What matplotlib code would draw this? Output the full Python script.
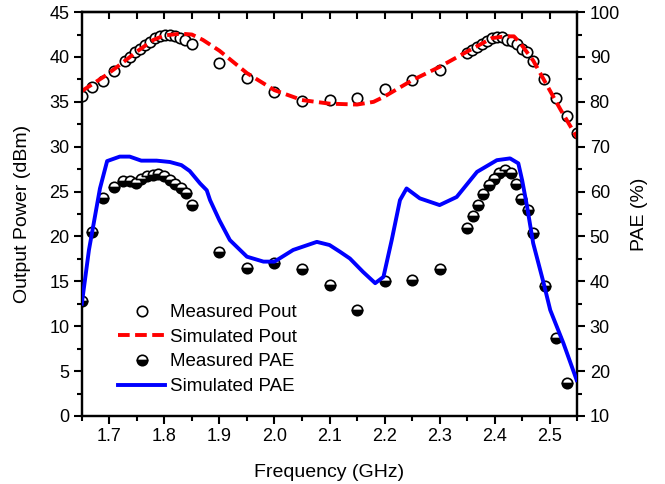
import numpy as np
import matplotlib
matplotlib.use('Agg')
import matplotlib.pyplot as plt
from matplotlib.ticker import MultipleLocator

plt.rcParams['font.family'] = ['Liberation Sans', 'DejaVu Sans']
plt.rcParams['font.size'] = 13

# measured output power (dBm)
meas_pout_f = [1.65, 1.669, 1.689, 1.709, 1.728, 1.737, 1.746, 1.755, 1.765, 1.774,
               1.783, 1.792, 1.801, 1.81, 1.819, 1.828, 1.837, 1.85, 1.90, 1.95,
               2.00, 2.05, 2.10, 2.15, 2.20, 2.25, 2.30, 2.35, 2.359, 2.368,
               2.377, 2.386, 2.395, 2.404, 2.413, 2.422, 2.431, 2.44, 2.449, 2.459,
               2.469, 2.49, 2.511, 2.531, 2.549]
meas_pout = [35.6, 36.6, 37.3, 38.4, 39.5, 40.0, 40.6, 40.9, 41.3, 41.7,
             42.1, 42.3, 42.4, 42.4, 42.3, 42.1, 41.9, 41.5, 39.3, 37.7,
             36.1, 35.1, 35.2, 35.4, 36.4, 37.4, 38.5, 40.4, 40.8, 41.1,
             41.5, 41.8, 42.1, 42.2, 42.2, 41.9, 41.8, 41.5, 40.9, 40.5,
             39.6, 37.6, 35.4, 33.4, 31.5]

# simulated output power (dBm)
sim_pout_f = [1.65, 1.67, 1.69, 1.71, 1.75, 1.78, 1.80, 1.83, 1.85, 1.87, 1.90,
              1.95, 2.00, 2.05, 2.10, 2.15, 2.18, 2.20, 2.25, 2.30, 2.35, 2.395,
              2.42, 2.435, 2.447, 2.47, 2.49, 2.52, 2.55]
sim_pout = [36.2, 37.0, 37.8, 38.7, 40.6, 41.9, 42.4, 42.6, 42.5, 41.9, 40.7,
            38.2, 36.3, 35.2, 34.8, 34.7, 35.0, 35.6, 37.4, 38.9, 40.6, 42.1,
            42.3, 42.3, 41.5, 39.6, 37.4, 34.1, 31.0]

# measured PAE (%)
meas_pae_f = [1.65, 1.668, 1.689, 1.709, 1.725, 1.737, 1.748, 1.758, 1.769, 1.78,
              1.789, 1.799, 1.81, 1.82, 1.83, 1.84, 1.851, 1.90, 1.95, 2.00,
              2.05, 2.10, 2.15, 2.20, 2.25, 2.30, 2.35, 2.36, 2.369, 2.379,
              2.389, 2.398, 2.408, 2.419, 2.429, 2.439, 2.448, 2.46, 2.47, 2.491,
              2.511, 2.531]
meas_pae = [35.6, 50.9, 58.5, 61.1, 62.3, 62.3, 62.0, 62.9, 63.5, 63.7,
            63.9, 63.5, 62.6, 61.8, 60.9, 59.6, 57.1, 46.6, 42.9, 44.2,
            42.7, 39.3, 33.6, 40.1, 40.3, 42.7, 52.0, 54.6, 57.0, 59.4,
            61.4, 62.9, 64.2, 64.8, 64.1, 61.8, 58.3, 55.9, 50.8, 38.9,
            27.3, 17.4]

# simulated PAE (%)
sim_pae_f = [1.65, 1.663, 1.683, 1.696, 1.719, 1.737, 1.758, 1.786, 1.81, 1.831,
             1.846, 1.865, 1.877, 1.883, 1.90, 1.919, 1.95, 1.98, 2.00, 2.034,
             2.077, 2.10, 2.119, 2.137, 2.161, 2.183, 2.198, 2.213, 2.228, 2.24,
             2.264, 2.30, 2.331, 2.368, 2.404, 2.428, 2.443, 2.45, 2.459, 2.47,
             2.489, 2.501, 2.525, 2.549]
sim_pae = [35.0, 47.0, 60.7, 66.8, 67.8, 67.8, 66.9, 66.9, 66.6, 65.9,
           64.6, 61.8, 60.3, 58.1, 53.6, 49.2, 45.5, 44.4, 44.4, 47.0,
           48.8, 48.1, 46.6, 45.1, 42.1, 39.6, 41.0, 49.2, 58.1, 60.7,
           58.5, 57.0, 58.8, 64.4, 67.0, 67.4, 66.3, 62.5, 56.6, 48.5,
           39.6, 33.6, 26.2, 18.0]

fig = plt.figure(figsize=(6.65, 4.84), dpi=100)
ax1 = fig.add_axes([0.123, 0.1405, 0.745, 0.8345])
ax2 = ax1.twinx()

h1, = ax1.plot(meas_pout_f, meas_pout, 'o', ms=7.5, mfc='white', mec='black',
               mew=1.2, ls='none', label='Measured Pout', zorder=3)
h2, = ax1.plot(sim_pout_f, sim_pout, color='#ff0000', lw=2.8, ls=(0, (3, 1.4)),
               label='Simulated Pout', zorder=4)
h3, = ax2.plot(meas_pae_f, meas_pae, 'o', ms=7.5, fillstyle='bottom',
               mfc='black', mfcalt='white', mec='black', mew=1.2, ls='none',
               label='Measured PAE', zorder=3)
h4, = ax2.plot(sim_pae_f, sim_pae, color='#0000ff', lw=2.8,
               solid_joinstyle='round', label='Simulated PAE', zorder=4)

ax1.set_xlim(1.65, 2.55)
ax1.set_ylim(0, 45)
ax2.set_ylim(10, 100)

ax1.xaxis.set_major_locator(MultipleLocator(0.1))
ax1.xaxis.set_minor_locator(MultipleLocator(0.05))
ax1.yaxis.set_major_locator(MultipleLocator(5))
ax1.yaxis.set_minor_locator(MultipleLocator(2.5))
ax2.yaxis.set_major_locator(MultipleLocator(10))
ax2.yaxis.set_minor_locator(MultipleLocator(5))

ax1.set_xticks(np.arange(1.7, 2.51, 0.1))
ax1.set_xticklabels(['%.1f' % v for v in np.arange(1.7, 2.51, 0.1)])

for ax in (ax1, ax2):
    for s in ax.spines.values():
        s.set_linewidth(1.6)
ax1.tick_params(axis='both', which='major', direction='out', length=6, width=1.5,
                labelsize=13, pad=3)
ax1.tick_params(axis='both', which='minor', direction='out', length=3.5, width=1.5)
ax2.tick_params(axis='y', which='major', direction='out', length=6, width=1.5,
                labelsize=13, pad=3)
ax2.tick_params(axis='y', which='minor', direction='out', length=3.5, width=1.5)

# inward ticks along the top edge
top = ax1.secondary_xaxis('top')
top.set_xticks(np.arange(1.7, 2.56, 0.05))
top.tick_params(direction='in', length=5, width=1.5, labeltop=False)
top.spines['top'].set_linewidth(1.6)

ax1.set_xlabel('Frequency (GHz)', fontsize=14, labelpad=13)
ax1.set_ylabel('Output Power (dBm)', fontsize=14, labelpad=13)
ax2.set_ylabel('PAE (%)', fontsize=14, labelpad=8)

ax2.legend(handles=[h1, h2, h3, h4], loc='lower left',
           bbox_to_anchor=(0.04, 0.01), frameon=False, fontsize=13.5,
           handlelength=2.5, handletextpad=0.25, labelspacing=0.4)

fig.savefig('out.png', dpi=100)
